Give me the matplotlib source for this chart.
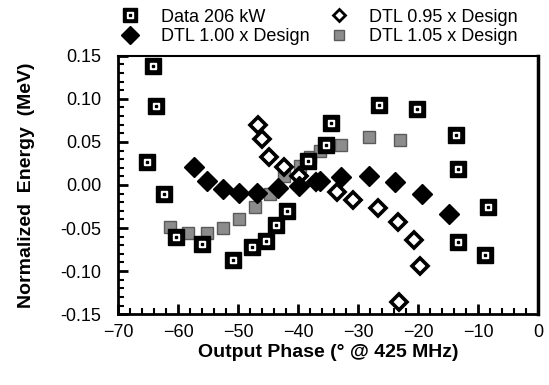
import matplotlib
matplotlib.use("Agg")
import matplotlib.pyplot as plt
from matplotlib.ticker import MultipleLocator, FormatStrFormatter
from matplotlib.lines import Line2D
from matplotlib.legend_handler import HandlerTuple

plt.rcParams['font.family'] = ['Liberation Sans', 'DejaVu Sans']

# Data 206 kW (measured)
data_x = [-64.1, -63.7, -65.1, -62.4, -60.3, -56.0, -50.8, -47.6, -45.4, -43.7, -41.8,
          -38.3, -35.4, -34.5, -26.5, -20.1, -13.6, -13.3, -8.3, -13.3, -8.8]
data_y = [0.138, 0.092, 0.027, -0.010, -0.060, -0.068, -0.087, -0.072, -0.065, -0.046, -0.030,
          0.028, 0.046, 0.072, 0.093, 0.088, 0.058, 0.018, -0.025, -0.066, -0.081]

# DTL 1.00 x Design
d100_x = [-57.3, -55.2, -52.5, -49.9, -46.9, -43.4, -39.9, -36.3, -32.9, -28.1, -23.8, -19.4, -14.9]
d100_y = [0.021, 0.005, -0.005, -0.009, -0.009, -0.004, -0.001, 0.005, 0.009, 0.010, 0.003, -0.010, -0.034]

# DTL 0.95 x Design
d95_x = [-46.6, -46.0, -44.9, -42.4, -39.8, -37.0, -33.5, -30.8, -26.7, -23.3, -20.6, -19.6, -23.1]
d95_y = [0.070, 0.053, 0.033, 0.021, 0.010, 0.003, -0.008, -0.017, -0.027, -0.043, -0.064, -0.094, -0.136]

# DTL 1.05 x Design
d105_x = [-61.3, -58.3, -55.2, -52.5, -49.8, -47.2, -44.7, -42.4, -39.7, -38.0, -36.4, -32.9, -28.1, -23.0]
d105_y = [-0.049, -0.056, -0.056, -0.050, -0.039, -0.025, -0.010, 0.010, 0.022, 0.033, 0.039, 0.047, 0.056, 0.052]

fig = plt.figure(figsize=(5.49, 3.85), dpi=100)
ax = fig.add_axes([0.215, 0.184, 0.765, 0.671])

# DTL 1.05: checkered (gray) markers
ax.plot(d105_x, d105_y, ls='none', marker='s', ms=9, mfc='#8c8c8c', mec='#5a5a5a', mew=1.0, zorder=3)
# DTL 0.95: open diamonds
ax.plot(d95_x, d95_y, ls='none', marker='D', ms=8, mfc='white', mec='black', mew=2.6, zorder=4)
# DTL 1.00: filled diamonds
ax.plot(d100_x, d100_y, ls='none', marker='D', ms=10, mfc='black', mec='black', mew=1, zorder=5)
# Data: black square, white inner square, black dot
ax.plot(data_x, data_y, ls='none', marker='s', ms=11, mfc='black', mec='black', zorder=6)
ax.plot(data_x, data_y, ls='none', marker='s', ms=4.5, mfc='white', mec='white', zorder=7)
ax.plot(data_x, data_y, ls='none', marker='s', ms=1.8, mfc='black', mec='black', zorder=8)

ax.set_xlim(-70, 0)
ax.set_ylim(-0.15, 0.15)
ax.xaxis.set_major_locator(MultipleLocator(10))
ax.xaxis.set_minor_locator(MultipleLocator(2))
ax.yaxis.set_major_locator(MultipleLocator(0.05))
ax.yaxis.set_minor_locator(MultipleLocator(0.01))
ax.yaxis.set_major_formatter(FormatStrFormatter('%.2f'))
ax.tick_params(which='both', direction='in', top=False, right=False, labelsize=13)
ax.tick_params(which='major', length=7, width=2, pad=7)
ax.tick_params(axis='y', which='major', pad=12)
ax.tick_params(which='minor', length=4, width=1.5)
for s in ['left', 'bottom']:
    ax.spines[s].set_linewidth(2)
ax.spines['top'].set_linewidth(1.5)
ax.spines['right'].set_linewidth(2.5)

ax.set_xlabel('Output Phase (° @ 425 MHz)', fontsize=14, fontweight='bold', labelpad=2)
ax.set_ylabel('Normalized  Energy  (MeV)', fontsize=14, fontweight='bold', labelpad=18)

# Legend built from the drawn series styles
h_data = (Line2D([], [], ls='none', marker='s', ms=10, mfc='black', mec='black'),
          Line2D([], [], ls='none', marker='s', ms=4, mfc='white', mec='white'),
          Line2D([], [], ls='none', marker='s', ms=1.6, mfc='black', mec='black'))
h95 = Line2D([], [], ls='none', marker='D', ms=6, mfc='white', mec='black', mew=2)
h100 = Line2D([], [], ls='none', marker='D', ms=9, mfc='black', mec='black')
h105 = Line2D([], [], ls='none', marker='s', ms=7, mfc='#8c8c8c', mec='#5a5a5a')
leg = fig.legend([h_data, h100, h95, h105],
                 ['Data 206 kW', 'DTL 1.00 x Design', 'DTL 0.95 x Design', 'DTL 1.05 x Design'],
                 ncol=2, loc='upper left', bbox_to_anchor=(0.185, 1.02), frameon=False,
                 fontsize=13, handlelength=1.4, handletextpad=1.0, columnspacing=0.9, labelspacing=0.15,
                 handler_map={tuple: HandlerTuple(ndivide=1, pad=0)})

fig.savefig('out.png', dpi=100)
